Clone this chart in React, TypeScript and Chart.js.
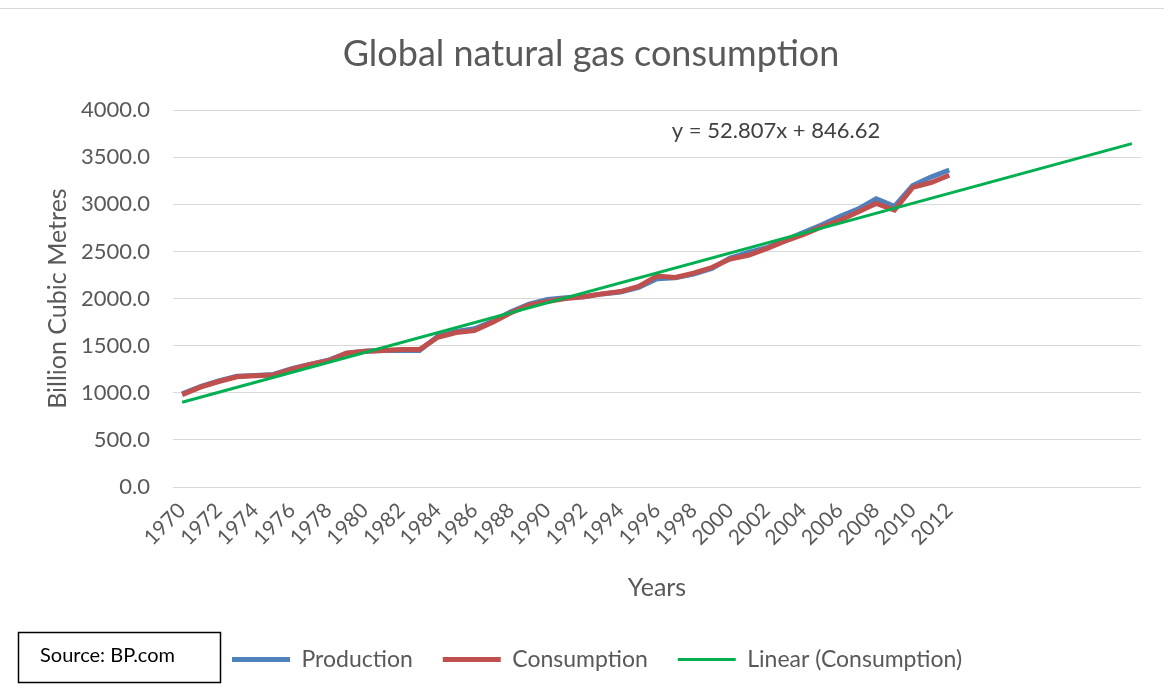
import React, { useEffect, useRef } from "react";
import { Chart, registerables } from "chart.js";

Chart.register(...registerables);

const YEARS = [
  "1970", "1971", "1972", "1973", "1974", "1975", "1976", "1977", "1978", "1979",
  "1980", "1981", "1982", "1983", "1984", "1985", "1986", "1987", "1988", "1989",
  "1990", "1991", "1992", "1993", "1994", "1995", "1996", "1997", "1998", "1999",
  "2000", "2001", "2002", "2003", "2004", "2005", "2006", "2007", "2008", "2009",
  "2010", "2011", "2012",
];
// Forecast slots of the trendline (unlabelled categories after 2012)
const FORECAST_SLOTS = ["", "", "", "", "", "", "", "", "", ""];

const PRODUCTION = [
  990, 1065, 1125, 1175, 1185, 1195, 1255, 1300, 1345, 1420,
  1440, 1450, 1450, 1450, 1600, 1650, 1680, 1760, 1860, 1940,
  1990, 2010, 2020, 2050, 2070, 2120, 2210, 2220, 2260, 2320,
  2430, 2490, 2540, 2620, 2700, 2780, 2870, 2950, 3060, 2980,
  3200, 3290, 3365,
];
const CONSUMPTION = [
  980, 1060, 1120, 1170, 1180, 1190, 1250, 1300, 1340, 1420,
  1440, 1450, 1460, 1460, 1590, 1640, 1660, 1750, 1850, 1930,
  1970, 2000, 2020, 2050, 2075, 2130, 2240, 2225, 2270, 2330,
  2420, 2460, 2530, 2610, 2680, 2760, 2830, 2920, 3010, 2940,
  3180, 3230, 3310,
];
// Linear trendline (Consumption): endpoints at first and last category
const TREND_START = 899.4;
const TREND_END = 3645.4;

const Y_MIN = 0;
const Y_MAX = 4000;
const Y_STEP = 500;

const TITLE = "Global natural gas consumption";
const Y_TITLE = "Billion Cubic Metres";
const X_TITLE = "Years";
const EQUATION = "y = 52.807x + 846.62";
const SOURCE = "Source: BP.com";
const SERIES_NAMES = ["Production", "Consumption", "Linear (Consumption)"];

const FONT = "Lato, 'Open Sans', sans-serif";
const GREY_TEXT = "#595959";
const GRID = "#d9d9d9";

export default function App() {
  const canvasRef = useRef<HTMLCanvasElement | null>(null);

  useEffect(() => {
    document.body.style.margin = "0";
    const canvas = canvasRef.current;
    if (!canvas) return;

    const labels = [...YEARS, ...FORECAST_SLOTS];
    const trend: (number | null)[] = [TREND_START, ...Array(labels.length - 2).fill(null), TREND_END];

    const decor = {
      id: "decor",
      afterLayout(chart: any) {
        const lg = chart.legend;
        if (lg && lg.lineWidths) {
          const pad = lg.options.labels.padding;
          const start = (lg.left + pad + lg.right - lg.lineWidths[0]) / 2;
          const shift = 232 - start;
          lg.left += shift;
          lg.right += shift;
        }
        const tb = chart.titleBlock;
        if (tb) {
          const shift = 591 - (tb.left + tb.right) / 2;
          tb.left += shift;
          tb.right += shift;
        }
      },
      beforeDraw(chart: any) {
        const ctx = chart.ctx;
        ctx.save();
        ctx.fillStyle = "#ffffff";
        ctx.fillRect(0, 0, chart.width, chart.height);
        ctx.strokeStyle = GRID;
        ctx.lineWidth = 1;
        ctx.beginPath();
        ctx.moveTo(0, 8.5);
        ctx.lineTo(chart.width - 6, 8.5);
        ctx.stroke();
        ctx.restore();
      },
      afterDraw(chart: any) {
        const ctx = chart.ctx;
        ctx.save();
        ctx.fillStyle = "#404040";
        ctx.font = `22px ${FONT}`;
        ctx.textAlign = "center";
        ctx.textBaseline = "middle";
        ctx.fillText(EQUATION, 776, 131);
        // source box
        ctx.strokeStyle = "#000000";
        ctx.lineWidth = 1.5;
        ctx.strokeRect(18.5, 632.5, 202, 50);
        ctx.fillStyle = "#000000";
        ctx.font = `20px ${FONT}`;
        ctx.textAlign = "left";
        ctx.fillText(SOURCE, 40, 656);
        ctx.restore();
      },
    };

    const chart = new Chart(canvas, {
      type: "line",
      data: {
        labels,
        datasets: [
          {
            label: SERIES_NAMES[0],
            data: PRODUCTION,
            borderColor: "#4f81bd",
            backgroundColor: "#4f81bd",
            borderWidth: 5,
            pointRadius: 0,
            tension: 0,
            order: 3,
          },
          {
            label: SERIES_NAMES[1],
            data: CONSUMPTION,
            borderColor: "#c0504d",
            backgroundColor: "#c0504d",
            borderWidth: 5,
            pointRadius: 0,
            tension: 0,
            order: 2,
          },
          {
            label: SERIES_NAMES[2],
            data: trend,
            borderColor: "#00b050",
            backgroundColor: "#00b050",
            borderWidth: 3,
            pointRadius: 0,
            tension: 0,
            spanGaps: true,
            order: 1,
          },
        ],
      },
      options: {
        responsive: false,
        animation: false,
        devicePixelRatio: 1,
        layout: { padding: { left: 8, right: 29, top: 0, bottom: 14 } },
        plugins: {
          title: {
            display: true,
            text: TITLE,
            color: GREY_TEXT,
            font: { family: FONT, size: 36, weight: "normal" },
            padding: { top: 33, bottom: 34 },
          },
          legend: {
            display: true,
            position: "bottom",
            labels: {
              color: GREY_TEXT,
              font: { family: FONT, size: 23 },
              usePointStyle: true,
              pointStyle: "line",
              pointStyleWidth: 58,
              padding: 30,
              sort: (a: any, b: any) => a.datasetIndex - b.datasetIndex,
            },
          },
          tooltip: { enabled: false },
        },
        scales: {
          x: {
            offset: true,
            grid: { display: false, drawTicks: false },
            border: { display: false },
            ticks: {
              color: GREY_TEXT,
              font: { family: FONT, size: 21 },
              autoSkip: false,
              maxRotation: 45,
              minRotation: 45,
              padding: 11,
              callback: function (this: any, value: any, index: number) {
                return index % 2 === 0 ? this.getLabelForValue(value) : "";
              },
            },
            title: {
              display: true,
              text: X_TITLE,
              color: GREY_TEXT,
              font: { family: FONT, size: 25 },
              padding: { top: 0, bottom: 15 },
            },
            afterFit: (scale: any) => {
              scale.height = 131;
            },
          },
          y: {
            min: Y_MIN,
            max: Y_MAX,
            grid: { color: GRID, lineWidth: 1, drawTicks: false },
            border: { display: false },
            ticks: {
              stepSize: Y_STEP,
              color: GREY_TEXT,
              font: { family: FONT, size: 22 },
              padding: 23,
              callback: (v: any) => Number(v).toFixed(1),
            },
            title: {
              display: true,
              text: Y_TITLE,
              color: GREY_TEXT,
              font: { family: FONT, size: 25 },
              padding: { top: 35, bottom: 0 },
            },
            afterFit: (scale: any) => {
              scale.width = 165;
            },
          },
        },
      },
      plugins: [decor],
    });

    return () => chart.destroy();
  }, []);

  return (
    <div style={{ width: 1170, height: 695, position: "relative" }}>
      <canvas ref={canvasRef} width={1170} height={695} style={{ display: "block" }} />
    </div>
  );
}
